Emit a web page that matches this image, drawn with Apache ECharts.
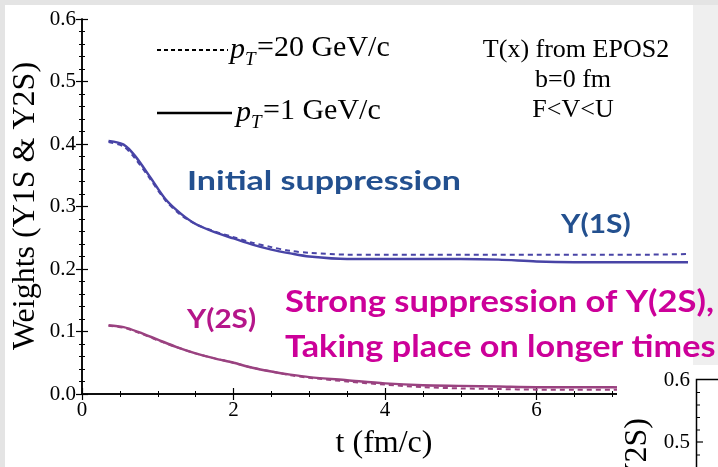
<!DOCTYPE html>
<html>
<head>
<meta charset="utf-8">
<script src="https://cdn.jsdelivr.net/npm/echarts@6/dist/echarts.min.js"></script>
<style>html,body{margin:0;padding:0;background:#e4e4e4;}#c{width:718px;height:467px;}</style>
</head>
<body>
<div id="c"></div>
<script>
// ---- data ----
const tY1S = [0.35,0.55,0.7,0.9,1.1,1.3,1.5,1.75,2.0,2.25,2.5,2.75,3.0,3.5,4.0,4.5,5.0,5.5,6.0,6.5,7.0,7.5,8.0];
const y1sPt1  = [0.405,0.399,0.381,0.347,0.312,0.289,0.272,0.259,0.249,0.239,0.231,0.225,0.220,0.216,0.216,0.216,0.216,0.215,0.212,0.211,0.211,0.211,0.211];
const y1sPt20 = [0.403,0.396,0.377,0.344,0.310,0.287,0.272,0.260,0.251,0.242,0.235,0.229,0.226,0.223,0.223,0.223,0.223,0.223,0.223,0.223,0.223,0.223,0.224];
const tY2S = [0.35,0.55,0.75,1.0,1.25,1.5,1.75,2.0,2.25,2.5,2.75,3.0,3.5,4.0,4.5,5.0,5.5,6.0,6.5,7.0,7.5,8.0];
const y2sPt1  = [0.110,0.107,0.099,0.087,0.075,0.065,0.057,0.050,0.042,0.036,0.031,0.027,0.022,0.017,0.014,0.013,0.012,0.011,0.011,0.011,0.010,0.010];
const y2sPt20 = [0.109,0.106,0.098,0.086,0.075,0.065,0.057,0.050,0.042,0.036,0.030,0.026,0.020,0.015,0.011,0.009,0.008,0.007,0.007,0.007,0.007,0.007];
const xTicks = [0,2,4,6,8];
const yTicks = [0.0,0.1,0.2,0.3,0.4,0.5,0.6];

const pair = (t, v) => t.map((x, i) => [x, v[i]]);
const serif = 'Liberation Serif';
const C1 = '#4844a6', C2 = '#9a4280';

const axisCommon = {
  axisLine: {show: true, lineStyle: {color: '#000', width: 1.5}},
  axisTick: {show: true, inside: true, length: 6, lineStyle: {color: '#000', width: 1.2}},
  splitLine: {show: false}
};
const minorX = {show: true, splitNumber: 4, length: 3, lineStyle: {color: '#000', width: 1}};
const minorY = {show: true, splitNumber: 5, length: 3, lineStyle: {color: '#000', width: 1}};

const chart = echarts.init(document.getElementById('c'), null, {renderer: 'canvas'});
chart.setOption({
  backgroundColor: '#e4e4e4',
  animation: false,
  grid: {left: 82, top: 19, right: 30, bottom: 73},
  xAxis: [
    Object.assign({type: 'value', min: 0, max: 8, interval: 2, position: 'bottom', minorTick: minorX,
      axisLabel: {show: true, margin: 6, fontFamily: serif, fontSize: 21, color: '#000',
        formatter: v => xTicks.includes(v) ? String(v) : ''}}, axisCommon),
    Object.assign({type: 'value', min: 0, max: 8, interval: 2, position: 'top', minorTick: minorX,
      axisLabel: {show: false}}, axisCommon)
  ],
  yAxis: [
    Object.assign({type: 'value', min: 0, max: 0.6, interval: 0.1, position: 'left', minorTick: minorY,
      axisLabel: {show: true, margin: 6, fontFamily: serif, fontSize: 21, color: '#000',
        formatter: v => yTicks.find(y => Math.abs(y - v) < 1e-9) !== undefined ? v.toFixed(1) : ''}}, axisCommon),
    Object.assign({type: 'value', min: 0, max: 0.6, interval: 0.1, position: 'right', minorTick: minorY,
      axisLabel: {show: false}}, axisCommon)
  ],
  series: [
    {type: 'line', data: pair(tY1S, y1sPt1), showSymbol: false, smooth: 0.3,
      lineStyle: {color: C1, width: 2.5}},
    {type: 'line', data: pair(tY1S, y1sPt20), showSymbol: false, smooth: 0.3,
      lineStyle: {color: C1, width: 2, type: [5, 4]}},
    {type: 'line', data: pair(tY2S, y2sPt1), showSymbol: false, smooth: 0.3,
      lineStyle: {color: C2, width: 2.5}},
    {type: 'line', data: pair(tY2S, y2sPt20), showSymbol: false, smooth: 0.3,
      lineStyle: {color: C2, width: 2, type: [5, 4]}}
  ],
  graphic: [
    // slide background pieces
    {type: 'rect', z: -10, shape: {x: 5, y: 5, width: 688, height: 462}, style: {fill: '#ffffff'}},
    {type: 'rect', z: -10, shape: {x: 693, y: 5, width: 25, height: 360}, style: {fill: '#efefef'}},
    // axis titles
    {type: 'text', x: 26, y: 206, rotation: Math.PI / 2,
      style: {text: 'Weights (Y1S & Y2S)', font: '32px "Liberation Serif"', fill: '#000', align: 'center', verticalAlign: 'middle'}},
    {type: 'text', x: 384, y: 444,
      style: {text: 't (fm/c)', font: '32px "Liberation Serif"', fill: '#000', align: 'center', verticalAlign: 'middle'}},
    // legend
    {type: 'line', shape: {x1: 157, y1: 50, x2: 228, y2: 50}, style: {stroke: '#000', lineWidth: 2, lineDash: [4, 3]}},
    {type: 'line', shape: {x1: 157, y1: 113, x2: 232, y2: 113}, style: {stroke: '#000', lineWidth: 2.5}},
    {type: 'text', x: 230, y: 50, style: {text: 'p', font: 'italic 30px "Liberation Serif"', fill: '#000', verticalAlign: 'middle'}},
    {type: 'text', x: 245, y: 60, style: {text: 'T', font: 'italic 19px "Liberation Serif"', fill: '#000', verticalAlign: 'middle'}},
    {type: 'text', x: 257, y: 48, style: {text: '=20 GeV/c', font: '30px "Liberation Serif"', fill: '#000', verticalAlign: 'middle'}},
    {type: 'text', x: 236, y: 113, style: {text: 'p', font: 'italic 30px "Liberation Serif"', fill: '#000', verticalAlign: 'middle'}},
    {type: 'text', x: 251, y: 123, style: {text: 'T', font: 'italic 19px "Liberation Serif"', fill: '#000', verticalAlign: 'middle'}},
    {type: 'text', x: 263, y: 111, style: {text: '=1 GeV/c', font: '30px "Liberation Serif"', fill: '#000', verticalAlign: 'middle'}},
    // model notes
    {type: 'text', x: 576, y: 50, style: {text: 'T(x) from EPOS2', font: '26px "Liberation Serif"', fill: '#000', align: 'center', verticalAlign: 'middle'}},
    {type: 'text', x: 573, y: 80, style: {text: 'b=0 fm', font: '26px "Liberation Serif"', fill: '#000', align: 'center', verticalAlign: 'middle'}},
    {type: 'text', x: 573, y: 110, style: {text: 'F<V<U', font: '26px "Liberation Serif"', fill: '#000', align: 'center', verticalAlign: 'middle'}},
    // overlapping second figure (bottom-right)
    {type: 'rect', z: 50, shape: {x: 617, y: 365, width: 101, height: 102}, style: {fill: '#ffffff'}},
    {type: 'polyline', z: 51, shape: {points: [[718, 379.5], [696.5, 379.5], [696.5, 467]]}, style: {stroke: '#000', lineWidth: 1.5, fill: null}},
    {type: 'line', z: 51, shape: {x1: 697, y1: 442, x2: 703, y2: 442}, style: {stroke: '#000', lineWidth: 1.2}},
    {type: 'line', z: 51, shape: {x1: 697, y1: 392.5, x2: 700, y2: 392.5}, style: {stroke: '#000', lineWidth: 1}},
    {type: 'line', z: 51, shape: {x1: 697, y1: 405, x2: 700, y2: 405}, style: {stroke: '#000', lineWidth: 1}},
    {type: 'line', z: 51, shape: {x1: 697, y1: 417.5, x2: 700, y2: 417.5}, style: {stroke: '#000', lineWidth: 1}},
    {type: 'line', z: 51, shape: {x1: 697, y1: 430, x2: 700, y2: 430}, style: {stroke: '#000', lineWidth: 1}},
    {type: 'line', z: 51, shape: {x1: 697, y1: 455, x2: 700, y2: 455}, style: {stroke: '#000', lineWidth: 1}},
    {type: 'text', z: 51, x: 690, y: 380, style: {text: '0.6', font: '21px "Liberation Serif"', fill: '#000', align: 'right', verticalAlign: 'middle'}},
    {type: 'text', z: 51, x: 690, y: 442, style: {text: '0.5', font: '21px "Liberation Serif"', fill: '#000', align: 'right', verticalAlign: 'middle'}},
    {type: 'text', z: 51, x: 638, y: 418, rotation: Math.PI / 2,
      style: {text: 'Weights (Y1S & Y2S)', font: '32px "Liberation Serif"', fill: '#000', align: 'right', verticalAlign: 'middle'}},
    // slide annotations
    {type: 'text', z: 60, x: 187, y: 181, scaleX: 1.26, style: {text: 'Initial suppression', font: 'bold 27px Lato', fill: '#23508f', verticalAlign: 'middle'}},
    {type: 'text', z: 60, x: 561, y: 224, scaleX: 1.11, style: {text: 'Y(1S)', font: 'bold 27px Lato', fill: '#23508f', verticalAlign: 'middle'}},
    {type: 'text', z: 60, x: 187, y: 319, scaleX: 1.1, style: {text: 'Y(2S)', font: 'bold 27px Lato', fill: '#b5168a', verticalAlign: 'middle'}},
    {type: 'text', z: 60, x: 285, y: 302, scaleX: 1.15, style: {text: 'Strong suppression of Y(2S),', font: 'bold 30px Lato', fill: '#cc0099', verticalAlign: 'middle'}},
    {type: 'text', z: 60, x: 285, y: 347, scaleX: 1.14, style: {text: 'Taking place on longer times', font: 'bold 30px Lato', fill: '#cc0099', verticalAlign: 'middle'}}
  ]
});
</script>
</body>
</html>
